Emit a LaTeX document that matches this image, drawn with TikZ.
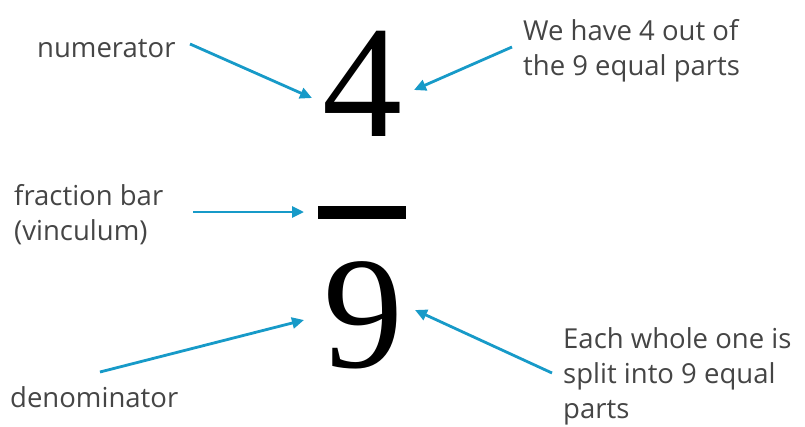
\documentclass[tikz,border=0pt]{standalone}
\usepackage{fontspec}
\newfontfamily\labelfont{Open Sans}
\newfontfamily\digitfont{Liberation Serif}
\usetikzlibrary{arrows.meta}
\definecolor{arrowblue}{HTML}{179AC8}
\definecolor{labelgray}{HTML}{454545}
\tikzset{
  lbl/.style={inner sep=0pt, anchor=base west, align=left, text=labelgray,
    font=\labelfont\fontsize{27.5}{35}\selectfont},
  digit/.style={inner sep=0pt, anchor=base, font=\digitfont\fontsize{160}{162}\selectfont},
  pointer/.style={draw=arrowblue, line width=2.8pt,
    -{Triangle[length=12pt,width=11pt]}, shorten >=0pt}
}
\begin{document}
\begin{tikzpicture}[x=1pt,y=-1pt]
\useasboundingbox (0,0) rectangle (805,426);
% digits and bar
\node[digit] (four) at (362,136) {4};
\node[digit] (nine) at (363,367) {9};
\fill (318,206) rectangle (406,219);
\node[inner sep=0pt, minimum width=88pt, minimum height=13pt] (bar) at (362,212.5) {};
% labels
\node[lbl] (num) at (37,57) {numerator};
\node[lbl] (have) at (523,75) {We have 4 out of\\the 9 equal parts};
\node[lbl] (fbar) at (14,240) {fraction bar\\(vinculum)};
\node[lbl] (den) at (10,407) {denominator};
\node[lbl] (each) at (563,418) {Each whole one is\\split into 9 equal\\parts};
% arrow endpoints
\coordinate (numS) at (190,44);
\coordinate (numT) at (312,98);
\coordinate (haveS) at (512,47);
\coordinate (haveT) at (414,90);
\coordinate (fbarS) at (193,212);
\coordinate (fbarT) at (304,212);
\coordinate (denS) at (100,372);
\coordinate (denT) at (304,320);
\coordinate (eachS) at (552,373);
\coordinate (eachT) at (415,310);
\draw[pointer] (numS) -- (numT);
\draw[pointer] (haveS) -- (haveT);
\draw[pointer] (fbarS) -- (fbarT);
\draw[pointer] (denS) -- (denT);
\draw[pointer] (eachS) -- (eachT);
\end{tikzpicture}
\end{document}
